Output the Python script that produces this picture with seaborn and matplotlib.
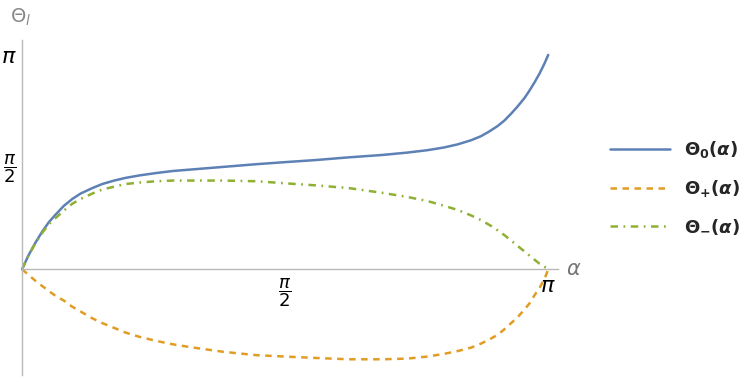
import matplotlib
matplotlib.use("Agg")
import matplotlib.pyplot as plt
import numpy as np
import pandas as pd
import seaborn as sns

# values (alpha in radians)
alpha = [0.0, 0.04, 0.08, 0.12, 0.16, 0.2, 0.25, 0.3, 0.35, 0.42, 0.48, 0.55, 0.62, 0.7,
         0.8, 0.9, 1.0, 1.2, 1.4, 1.57, 1.75, 1.95, 2.15, 2.3, 2.42, 2.52, 2.6, 2.68,
         2.74, 2.79, 2.84, 2.88, 2.92, 2.96, 3.0, 3.03, 3.06, 3.09, 3.12, np.pi]
theta_0 = [0.0, 0.21, 0.39, 0.55, 0.69, 0.80, 0.93, 1.03, 1.11, 1.19, 1.25, 1.30, 1.34,
           1.375, 1.41, 1.44, 1.46, 1.50, 1.54, 1.57, 1.60, 1.64, 1.675, 1.71, 1.745, 1.785,
           1.83, 1.89, 1.95, 2.02, 2.10, 2.18, 2.28, 2.39, 2.51, 2.62, 2.74, 2.87, 3.02,
           np.pi]
theta_plus = [0.0, -0.085, -0.17, -0.245, -0.32, -0.39, -0.46, -0.55, -0.62, -0.72, -0.79,
              -0.86, -0.93, -0.99, -1.05, -1.10, -1.14, -1.21, -1.26, -1.28, -1.30, -1.32,
              -1.32, -1.31, -1.28, -1.24, -1.20, -1.15, -1.09, -1.03, -0.96, -0.88, -0.79,
              -0.70, -0.59, -0.50, -0.38, -0.27, -0.14, 0.0]
theta_minus = [0.0, 0.21, 0.38, 0.53, 0.66, 0.75, 0.86, 0.96, 1.03, 1.11, 1.17, 1.21, 1.25,
               1.27, 1.29, 1.30, 1.30, 1.30, 1.29, 1.26, 1.23, 1.19, 1.12, 1.06, 1.00, 0.93,
               0.87, 0.79, 0.72, 0.65, 0.57, 0.50, 0.42, 0.34, 0.26, 0.20, 0.14, 0.08,
               0.035, 0.0]

labels = [r"$\mathbf{\Theta}_{\mathbf{0}}\mathbf{(}\boldsymbol{\alpha}\mathbf{)}$",
          r"$\mathbf{\Theta}_{\mathbf{+}}\mathbf{(}\boldsymbol{\alpha}\mathbf{)}$",
          r"$\mathbf{\Theta}_{\mathbf{-}}\mathbf{(}\boldsymbol{\alpha}\mathbf{)}$"]
colors = ["#5E81B5", "#E19C24", "#8FB032"]
dash_styles = ["-", (0, (2.6, 2.2)), (0, (3.0, 2.2, 0.7, 2.2))]

tick_pos = [np.pi / 2, np.pi]
tick_text = [r"$\dfrac{\pi}{2}$", r"$\pi$"]

sns.set_style("white")

fig = plt.figure(figsize=(7.47, 3.79), dpi=100)
ax = fig.add_axes([0.0295, 0.0106, 0.7175, 0.8838])

for series, label, color, ls in zip([theta_0, theta_plus, theta_minus], labels, colors, dash_styles):
    df = pd.DataFrame({"alpha": alpha, "theta": series})
    sns.lineplot(data=df, x="alpha", y="theta", color=color, lw=1.8, linestyle=ls,
                 label=label, ax=ax, clip_on=False, legend=False)

ax.set_xlim(0, 3.2)
ax.set_ylim(-1.55, 3.36)

for side in ["top", "right"]:
    ax.spines[side].set_visible(False)
ax.spines["left"].set_position(("data", 0))
ax.spines["bottom"].set_position(("data", 0))
for side in ["left", "bottom"]:
    ax.spines[side].set_color("#b8b8b8")
    ax.spines[side].set_linewidth(1.0)

ax.set_xticks(tick_pos, tick_text)
ax.set_yticks(tick_pos, tick_text)
ax.tick_params(axis="both", direction="in", length=4, width=0.8, color="#b8b8b8",
               labelsize=13, labelcolor="black")
ax.tick_params(axis="x", pad=5)
ax.tick_params(axis="y", pad=4)
ax.get_xticklabels()[1].set_fontsize(16)
ax.get_yticklabels()[1].set_fontsize(16)
ax.set_xlabel("")
ax.set_ylabel("")

ax.text(3.25, 0, r"$\alpha$", color="#777777", fontsize=15, ha="left", va="center")
fig.text(0.013, 0.955, r"$\Theta_l$", color="#888888", fontsize=14, ha="left", va="center")

handles, leg_labels = ax.get_legend_handles_labels()
fig.legend(handles, leg_labels, loc="center left", bbox_to_anchor=(0.795, 0.505),
           frameon=False, fontsize=13, handlelength=3.3, labelspacing=1.0, handletextpad=0.8)

fig.savefig("out.png", dpi=100)
